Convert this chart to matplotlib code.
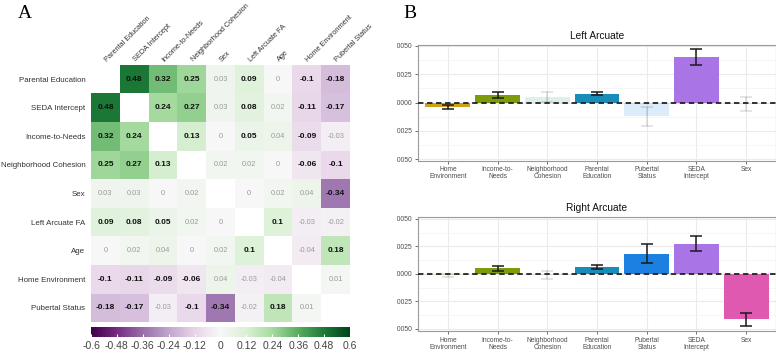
import numpy as np
import matplotlib
matplotlib.use('Agg')
import matplotlib.pyplot as plt
from matplotlib.transforms import Bbox, TransformedBbox

plt.rcParams['font.family'] = ['Liberation Sans', 'DejaVu Sans']

# ---- data: panel A (correlation matrix) ----
var_names = ['Parental Education', 'SEDA Intercept', 'Income-to-Needs',
             'Neighborhood Cohesion', 'Sex', 'Left Arcuate FA', 'Age',
             'Home Environment', 'Pubertal Status']
corr = [
    [None, 0.48, 0.32, 0.25, 0.03, 0.09, 0, -0.1, -0.18],
    [0.48, None, 0.24, 0.27, 0.03, 0.08, 0.02, -0.11, -0.17],
    [0.32, 0.24, None, 0.13, 0, 0.05, 0.04, -0.09, -0.03],
    [0.25, 0.27, 0.13, None, 0.02, 0.02, 0, -0.06, -0.1],
    [0.03, 0.03, 0, 0.02, None, 0, 0.02, 0.04, -0.34],
    [0.09, 0.08, 0.05, 0.02, 0, None, 0.1, -0.03, -0.02],
    [0, 0.02, 0.04, 0, 0.02, 0.1, None, -0.04, 0.18],
    [-0.1, -0.11, -0.09, -0.06, 0.04, -0.03, -0.04, None, 0.01],
    [-0.18, -0.17, -0.03, -0.1, -0.34, -0.02, 0.18, 0.01, None],
]
cbar_ticks = [-0.6, -0.48, -0.36, -0.24, -0.12, 0, 0.12, 0.24, 0.36, 0.48, 0.6]

# ---- data: panel B (bar charts) ----
bar_cats = ['Home\nEnvironment', 'Income-to-\nNeeds', 'Neighborhood\nCohesion',
            'Parental\nEducation', 'Pubertal\nStatus', 'SEDA\nIntercept', 'Sex']
bar_colors = ['#CFA01E', '#7C9C0A', '#2E9E6E', '#1A8CBA', '#1C80E3', '#A874E6', '#E059B0']

left_est = [-0.0004, 0.0007, 0.0005, 0.0008, -0.0012, 0.0040, -0.0001]
left_err = [0.0002, 0.00026, 0.00045, 0.00017, 0.00085, 0.00068, 0.0006]
left_sig = [True, True, False, True, False, True, False]

right_est = [-0.00015, 0.0005, -0.0001, 0.00063, 0.00185, 0.00275, -0.00413]
right_err = [0.0001, 0.00025, 0.0004, 0.00015, 0.0009, 0.00068, 0.0006]
right_sig = [False, True, False, True, True, True, True]

W, H = 776, 354
fig = plt.figure(figsize=(W / 100, H / 100), dpi=100)


def px_axes(x0, y0, x1, y1):
    # pixel box (top-left origin) -> figure axes
    return fig.add_axes([x0 / W, 1 - y1 / H, (x1 - x0) / W, (y1 - y0) / H])


# ================= Panel A =================
ax = px_axes(91, 64.7, 350, 322.3)
n = len(var_names)
mat = np.ma.masked_invalid(np.array([[np.nan if v is None else v for v in r] for r in corr], dtype=float))
mesh = ax.pcolormesh(np.arange(n + 1), np.arange(n + 1), mat, cmap='PRGn', vmin=-0.6, vmax=0.6)
ax.set_xlim(0, n)
ax.set_ylim(n, 0)
for s in ax.spines.values():
    s.set_visible(False)
ax.set_xticks([])
ax.set_yticks(np.arange(n) + 0.5)
ax.set_yticklabels(var_names, fontsize=5.7, color='#333333')
ax.tick_params(axis='y', length=0, pad=4)

for i in range(n):
    for j in range(n):
        v = corr[i][j]
        if v is None:
            continue
        txt = f'{v:g}'
        if abs(v) >= 0.05:
            ax.text(j + 0.5, i + 0.5, txt, ha='center', va='center', fontsize=6,
                    fontweight='bold', color='#111111')
        else:
            ax.text(j + 0.5, i + 0.5, txt, ha='center', va='center', fontsize=5.3,
                    color='#9a9a9a')

for j, name in enumerate(var_names):
    ax.text(j + 0.6, -0.06, name, rotation=45, ha='left', va='bottom',
            rotation_mode='anchor', fontsize=5.3, color='#333333')

cax = px_axes(91, 327, 350, 336.5)
cb = fig.colorbar(mesh, cax=cax, orientation='horizontal', ticks=cbar_ticks)
cb.outline.set_visible(False)
cb.ax.set_xticklabels([f'{t:g}' for t in cbar_ticks], fontsize=7.5, color='#444444')
cb.ax.tick_params(axis='x', direction='in', length=2, color='white', pad=3)

fig.text(25 / W, 1 - 14 / H, 'A', fontsize=14, family='Liberation Serif',
         ha='center', va='center')
fig.text(410 / W, 1 - 14 / H, 'B', fontsize=14, family='Liberation Serif',
         ha='center', va='center')

# ================= Panel B =================
clip = TransformedBbox(Bbox([[397 / W, 0], [1, 1]]), fig.transFigure)


def bar_panel(bax, title, est, err, sig, ylim):
    x = np.arange(1, len(bar_cats) + 1)
    for xi, e, se, s, c in zip(x, est, err, sig, bar_colors):
        a = 1.0 if s else 0.15
        bax.bar(xi, e, width=0.9, color=c, alpha=a, zorder=2)
        bax.errorbar(xi, e, yerr=se, fmt='none', ecolor='#1a1a1a', elinewidth=1.1,
                     capsize=4.3, capthick=1.1, alpha=a, zorder=3)
    bax.axhline(0, color='#222222', ls=(0, (3, 2)), lw=1.3, zorder=4)
    bax.set_xlim(0.4, len(bar_cats) + 0.6)
    bax.set_ylim(*ylim)
    bax.set_xticks(x)
    bax.set_xticklabels(bar_cats, fontsize=4.8, color='#4d4d4d', linespacing=1.0)
    yt = [-0.005, -0.0025, 0, 0.0025, 0.005]
    bax.set_yticks(yt)
    bax.set_yticklabels([f'{t:.4f}' for t in yt], fontsize=4.9, color='#4d4d4d')
    bax.set_yticks([-0.00375, -0.00125, 0.00125, 0.00375], minor=True)
    bax.grid(which='major', color='#EBEBEB', lw=0.8, zorder=0)
    bax.grid(which='minor', axis='y', color='#F3F3F3', lw=0.5, zorder=0)
    bax.set_axisbelow(True)
    bax.tick_params(which='major', length=2.5, width=0.6, color='#555555', pad=1.5)
    bax.tick_params(which='minor', length=0)
    for s in bax.spines.values():
        s.set_color('#9a9a9a')
        s.set_linewidth(0.8)
    for lab in bax.get_yticklabels():
        lab.set_clip_on(True)
        lab.set_clip_box(clip)
    bax.set_title(title, fontsize=7.3, color='#111111', pad=4)


ax_l = px_axes(418, 44.7, 776, 160.5)
bar_panel(ax_l, 'Left Arcuate', left_est, left_err, left_sig, (-0.0051, 0.0051))

ax_r = px_axes(418, 216.7, 776, 331)
bar_panel(ax_r, 'Right Arcuate', right_est, right_err, right_sig, (-0.0052, 0.0052))

fig.savefig('out.png', dpi=100)
